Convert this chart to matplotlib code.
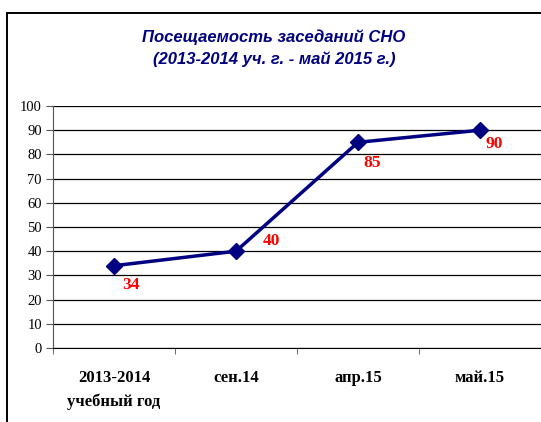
import matplotlib.pyplot as plt
from matplotlib.patches import Rectangle

categories = ["2013-2014\nучебный год", "сен.14", "апр.15", "май.15"]
values = [34, 40, 85, 90]
title = "Посещаемость заседаний СНО\n(2013-2014 уч. г. - май 2015 г.)"

navy = "#000080"
W, H = 541, 422

fig = plt.figure(figsize=(W / 100, H / 100), dpi=100)
# chart frame (cropped at right and bottom in the original)
fig.patches.append(Rectangle((7 / W, -0.05), 1.1, 1 - 13 / H + 0.05,
                             transform=fig.transFigure, fill=False,
                             edgecolor="black", linewidth=1.4))

ax = fig.add_axes([53 / W, 1 - 348 / H, 488 / W, 242 / H])
x = list(range(len(values)))
ax.plot(x, values, color=navy, linewidth=2.5, marker="D", markersize=8,
        markerfacecolor=navy, markeredgecolor=navy, zorder=3)

offsets = [(6, -14), (19, 7), (4, -15), (4, -10)]
for xi, v, (dx, dy) in zip(x, values, offsets):
    ax.annotate(str(v), (xi, v), xytext=(dx, dy), textcoords="offset points",
                ha="left", va="center",
                color="red", fontsize=12.5, fontweight="bold",
                family="Liberation Serif")

ax.set_xlim(-0.5, len(values) - 0.5)
ax.set_ylim(0, 100)
ax.set_yticks(range(0, 101, 10))
ax.set_xticks(x)
ax.set_xticklabels(categories, fontsize=12, fontweight="bold",
                   family="Liberation Serif", linespacing=1.55)
ax.set_xticks([i + 0.5 for i in range(-1, len(values) - 1)], minor=True)
ax.tick_params(axis="x", which="major", length=0, pad=16)
ax.tick_params(axis="x", which="minor", length=4, color="#555555")
ax.tick_params(axis="y", length=5, color="#555555", labelsize=10.5, pad=3)
for lbl in ax.get_yticklabels():
    lbl.set_family("Liberation Serif")

ax.grid(axis="y", color="black", linewidth=0.9)
ax.set_axisbelow(True)
for s in ["top", "right"]:
    ax.spines[s].set_visible(False)
ax.spines["left"].set_color("#555555")
ax.spines["bottom"].set_color("black")

fig.text(274 / W, 1 - 48 / H, title, ha="center", va="center",
         color=navy, fontsize=12, fontweight="bold", style="italic",
         family="Liberation Sans", linespacing=1.55)

fig.savefig("out.png", dpi=100)
